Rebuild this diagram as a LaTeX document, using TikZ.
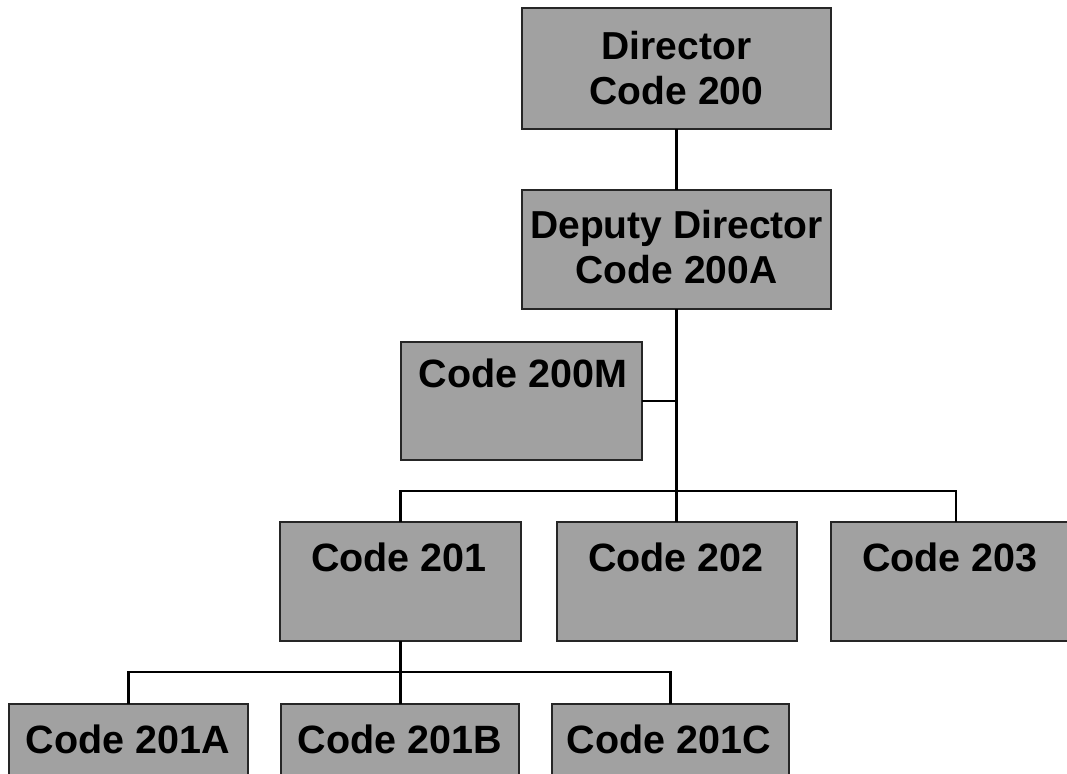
\documentclass[tikz,border=0pt]{standalone}
\usepackage{fontspec}
\setmainfont{Liberation Sans}
\begin{document}
\begin{tikzpicture}[x=1pt,y=-1pt,
  box/.style={draw=black!85, line width=2pt, fill=black!37, inner sep=0pt, outer sep=0pt, anchor=north west},
  lbl/.style={font=\fontsize{39.5}{46}\selectfont\bfseries, inner sep=0pt, anchor=base},
  lbltwo/.style={font=\fontsize{39}{45}\selectfont\bfseries, inner sep=0pt, align=center, anchor=center},
  conn/.style={line width=2.8pt, black}]
\useasboundingbox (0,0) rectangle (1067,773);
\clip (0,0) rectangle (1067,773);
% boxes
\node[box, minimum width=309pt, minimum height=121pt] (dir) at (522,8) {};
\node[box, minimum width=309pt, minimum height=119pt] (dep) at (522,190) {};
\node[box, minimum width=241pt, minimum height=118pt] (m) at (401,342) {};
\node[box, minimum width=241pt, minimum height=119pt] (c201) at (280,522) {};
\node[box, minimum width=240pt, minimum height=119pt] (c202) at (556.5,522) {};
\node[box, minimum width=250pt, minimum height=119pt] (c203) at (831,522) {};
\node[box, minimum width=239pt, minimum height=90pt] (a) at (9,704) {};
\node[box, minimum width=238pt, minimum height=90pt] (b) at (281,704) {};
\node[box, minimum width=237pt, minimum height=90pt] (c) at (552,704) {};
% labels
\node[lbltwo] (tdir) at (676.5,68) {Director\\Code 200};
\node[lbltwo] (tdep) at (676.5,247) {Deputy Director\\Code 200A};
\node[lbl] (tm) at (523,387) {Code 200M};
\node[lbl] (t201) at (399,571) {Code 201};
\node[lbl] (t202) at (676,571) {Code 202};
\node[lbl] (t203) at (950,571) {Code 203};
\node[lbl] (ta) at (128,753) {Code 201A};
\node[lbl] (tb) at (400,753) {Code 201B};
\node[lbl] (tc) at (669,753) {Code 201C};
% connectors
\coordinate (j1) at (676.5,491);
\coordinate (j2) at (400.5,672);
\draw[conn] (dir.south) -- (dep.north);
\draw[conn] (dep.south) -- (j1);
\draw[conn] (m.east) -- (m.east -| j1);
\draw[conn] (c201.north) |- (j1);
\draw[conn] (c203.north) |- (j1);
\draw[conn] (j1) -- (c202.north);
\draw[conn] (c201.south) -- (j2);
\draw[conn] (a.north) |- (j2);
\draw[conn] (c.north) |- (j2);
\draw[conn] (j2) -- (j2 |- b.north);
\end{tikzpicture}
\end{document}
